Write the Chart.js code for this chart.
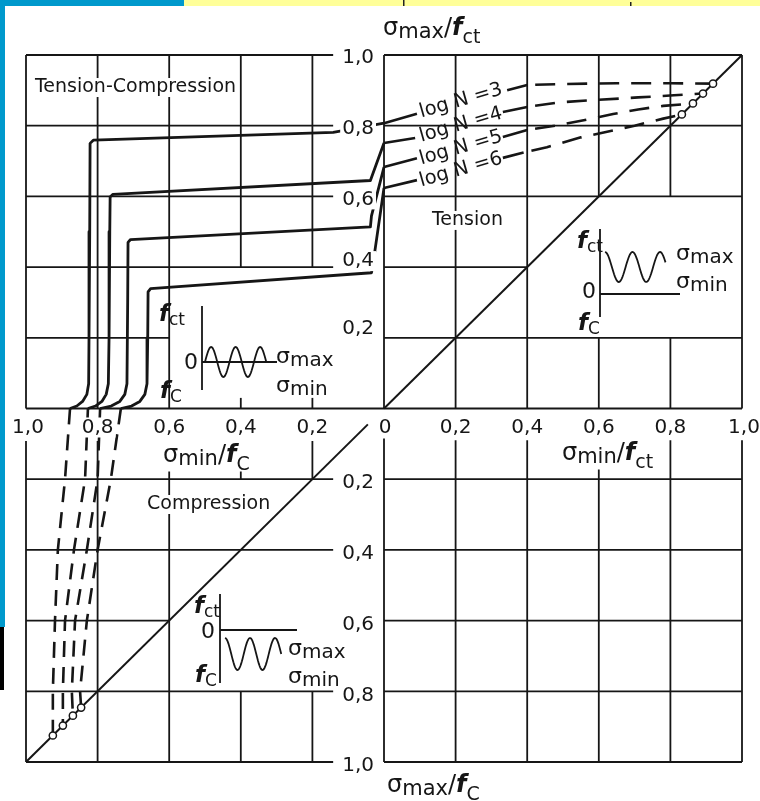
<!DOCTYPE html>
<html>
<head>
<meta charset="utf-8">
<script src="https://cdn.jsdelivr.net/npm/chart.js@4.4.1/dist/chart.umd.min.js"></script>
<style>
html, body { margin: 0; padding: 0; background: #fff; }
#wrap { width: 760px; height: 801px; }
</style>
</head>
<body>
<div id="wrap"><canvas id="chart" width="760" height="801"></canvas></div>
<script>
// ticks (same on all four half-axes)
const tickValues = [0.2, 0.4, 0.6, 0.8, 1.0];
const tickLabels = ['0,2', '0,4', '0,6', '0,8', '1,0'];

const logN = [3, 4, 5, 6];

// Tension: [σmin/fct, σmax/fct], null = break for the label
const tenN3 = [[0, 0.807], [0.092, 0.834], [0.2, null], [0.344, 0.900], [0.40, 0.915]];
const tenN4 = [[0, 0.751], [0.087, 0.765], [0.2, null], [0.332, 0.839], [0.40, 0.853]];
const tenN5 = [[0, 0.683], [0.092, 0.708], [0.2, null], [0.332, 0.768], [0.40, 0.788]];
const tenN6 = [[0, 0.624], [0.092, 0.646], [0.2, null], [0.332, 0.709], [0.39, 0.724]];
const tenN3dash = [[0.40, 0.915], [0.50, 0.918], [0.65, 0.920], [0.80, 0.920], [0.919, 0.919]];
const tenN4dash = [[0.40, 0.853], [0.49, 0.866], [0.58, 0.872], [0.71, 0.880], [0.81, 0.886], [0.891, 0.891]];
const tenN5dash = [[0.40, 0.788], [0.49, 0.802], [0.58, 0.820], [0.64, 0.833], [0.71, 0.846], [0.78, 0.856], [0.863, 0.863]];
const tenN6dash = [[0.39, 0.724], [0.455, 0.739], [0.55, 0.767], [0.70, 0.800], [0.78, 0.820], [0.832, 0.832]];

// Tension-Compression: [σmin/fc, σmax/fct]
const tcN3 = [[0, 0.807], [0.142, 0.781], [0.812, 0.759], [0.821, 0.750], [0.822, 0.50], [0.824, 0.20], [0.825, 0.07], [0.830, 0.04], [0.842, 0.02], [0.858, 0.007], [0.877, 0]];
const tcN4 = [[0, 0.751], [0.038, 0.645], [0.757, 0.606], [0.765, 0.598], [0.766, 0.50], [0.768, 0.20], [0.770, 0.07], [0.776, 0.04], [0.788, 0.02], [0.806, 0.007], [0.827, 0]];
const tcN5 = [[0, 0.683], [0.035, 0.545], [0.038, 0.514], [0.708, 0.478], [0.715, 0.470], [0.716, 0.30], [0.718, 0.07], [0.724, 0.04], [0.738, 0.02], [0.762, 0.007], [0.793, 0]];
const tcN6 = [[0, 0.624], [0.032, 0.400], [0.035, 0.384], [0.652, 0.339], [0.659, 0.330], [0.660, 0.20], [0.662, 0.07], [0.668, 0.04], [0.682, 0.02], [0.705, 0.007], [0.735, 0]];

// Compression: [σmin/fc, σmax/fc]
const compN3 = [[0.877, 0], [0.891, 0.2], [0.911, 0.4], [0.919, 0.6], [0.925, 0.8], [0.925, 0.925]];
const compN4 = [[0.827, 0], [0.835, 0.2], [0.866, 0.4], [0.891, 0.6], [0.897, 0.8], [0.897, 0.897]];
const compN5 = [[0.793, 0], [0.800, 0.2], [0.830, 0.4], [0.863, 0.6], [0.872, 0.8], [0.869, 0.869]];
const compN6 = [[0.735, 0], [0.763, 0.2], [0.800, 0.4], [0.830, 0.6], [0.849, 0.8], [0.846, 0.846]];

// end points on the diagonals
const tenEnds = [[0.919, 0.919], [0.891, 0.891], [0.863, 0.863], [0.832, 0.832]];
const compEnds = [[0.925, 0.925], [0.897, 0.897], [0.869, 0.869], [0.846, 0.846]];

const tenDiag = [[0, 0], [1, 1]];
const compDiag = [[0.045, 0.045], [1, 1]];

const ink = '#161616';
const F = "'DejaVu Sans'";

// x sign, y sign per quadrant
const pts = (arr, sx, sy) => arr.map(([a, b]) => ({ x: a * sx, y: b === null ? null : b * sy }));
function curve(arr, sx, sy, width, dash, offset) {
    return {
        data: pts(arr, sx, sy),
        showLine: true,
        borderColor: ink,
        borderWidth: width,
        borderDash: dash || [],
        borderDashOffset: offset || 0,
        borderJoinStyle: 'round',
        pointRadius: 0,
        spanGaps: false,
        tension: 0
    };
}

const datasets = [
    {
        data: pts(tenEnds, 1, 1).concat(pts(compEnds, -1, -1)),
        showLine: false,
        pointRadius: 3.6,
        pointBackgroundColor: '#fff',
        pointBorderColor: ink,
        pointBorderWidth: 1.5
    },
    curve(tenN3, 1, 1, 2.6), curve(tenN4, 1, 1, 2.6), curve(tenN5, 1, 1, 2.6), curve(tenN6, 1, 1, 2.6),
    curve(tenN3dash, 1, 1, 2.6, [20, 12], 24), curve(tenN4dash, 1, 1, 2.6, [20, 12], 24),
    curve(tenN5dash, 1, 1, 2.6, [20, 12], 24), curve(tenN6dash, 1, 1, 2.6, [20, 12], 24),
    curve(tcN3, -1, 1, 2.8), curve(tcN4, -1, 1, 2.8), curve(tcN5, -1, 1, 2.8), curve(tcN6, -1, 1, 2.8),
    curve(compN3, -1, -1, 2.6, [16, 10]), curve(compN4, -1, -1, 2.6, [16, 10]),
    curve(compN5, -1, -1, 2.6, [16, 10]), curve(compN6, -1, -1, 2.6, [16, 10]),
    curve(tenDiag, 1, 1, 2), curve(compDiag, -1, -1, 2)
];

function seg(ctx, sx, sy, x1, y1, x2, y2) {
    ctx.beginPath();
    ctx.moveTo(sx.getPixelForValue(x1), sy.getPixelForValue(y1));
    ctx.lineTo(sx.getPixelForValue(x2), sy.getPixelForValue(y2));
    ctx.stroke();
}

function boxText(ctx, text, x, y, align) {
    ctx.textAlign = align || 'left';
    ctx.textBaseline = 'middle';
    const w = ctx.measureText(text).width;
    const h = parseFloat(ctx.font.match(/(\d+(\.\d+)?)px/)[1]);
    const left = align === 'right' ? x - w : align === 'center' ? x - w / 2 : x;
    ctx.fillStyle = '#fff';
    ctx.fillRect(left - 2, y - h * 0.5, w + 4, h);
    ctx.fillStyle = ink;
    ctx.fillText(text, x, y);
}

function rich(ctx, x, y, parts, bg) {
    ctx.textBaseline = 'alphabetic';
    ctx.textAlign = 'left';
    let w = 0;
    for (const [t, font] of parts) { ctx.font = font; w += ctx.measureText(t).width; }
    if (bg) { ctx.fillStyle = '#fff'; ctx.fillRect(x - 2, y - 22, w + 4, 32); }
    ctx.fillStyle = ink;
    for (const [t, font, dy] of parts) {
        ctx.font = font;
        ctx.fillText(t, x, y + dy);
        x += ctx.measureText(t).width;
    }
}

function sigmaTitle(ctx, x, y, sub, fsub) {
    rich(ctx, x, y, [
        ['σ', `24px ${F}`, 0], [sub, `21px ${F}`, 3], ['/', `24px ${F}`, 0],
        ['f', `italic bold 24px ${F}`, 0], [fsub, `19px ${F}`, 8]
    ], true);
}

function sigmaPair(ctx, x, y1, y2) {
    rich(ctx, x, y1, [['σ', `22px ${F}`, 0], ['max', `20px ${F}`, 3]]);
    rich(ctx, x, y2, [['σ', `22px ${F}`, 0], ['min', `20px ${F}`, 3]]);
}

function fLabel(ctx, x, y, sub) {
    rich(ctx, x, y, [['f', `italic bold 23px ${F}`, 0], [sub, `17px ${F}`, 4]]);
}

function wave(ctx, x0, yc, amp, period, cycles, useCos) {
    ctx.beginPath();
    for (let i = 0; i <= 80; i++) {
        const t = i / 80 * cycles;
        const a = 2 * Math.PI * t;
        const y = yc - amp * (useCos ? Math.cos(a) : Math.sin(a));
        if (i === 0) ctx.moveTo(x0 + t * period, y); else ctx.lineTo(x0 + t * period, y);
    }
    ctx.stroke();
}

function inset(ctx, ax, top, bottom, zeroY, zeroEnd) {
    ctx.beginPath();
    ctx.moveTo(ax, top); ctx.lineTo(ax, bottom);
    ctx.moveTo(ax, zeroY); ctx.lineTo(zeroEnd, zeroY);
    ctx.stroke();
}

const backdrop = {
    id: 'backdrop',
    beforeDraw(chart) {
        const ctx = chart.ctx;
        ctx.save();
        ctx.fillStyle = '#fff';
        ctx.fillRect(0, 0, chart.width, chart.height);
        ctx.fillStyle = '#0099cc';
        ctx.fillRect(0, 0, 184, 6);
        ctx.fillRect(0, 0, 5, 627);
        ctx.fillStyle = '#ffff99';
        ctx.fillRect(184, 0, 576, 6);
        ctx.fillStyle = '#222';
        ctx.fillRect(403, 0, 1.5, 6);
        ctx.fillRect(630, 2, 1.5, 4);
        ctx.fillStyle = '#000';
        ctx.fillRect(0, 627, 4, 63);
        ctx.restore();
    }
};

const quadGrid = {
    id: 'quadGrid',
    beforeDatasetsDraw(chart) {
        const { ctx, scales: { x: sx, y: sy } } = chart;
        const L = (a, b, c, d) => seg(ctx, sx, sy, a, b, c, d);
        ctx.save();
        ctx.strokeStyle = ink;
        ctx.lineWidth = 1.8;
        // tension
        L(0, 0, 1, 0);
        L(0, 0, 0, 1);
        tickValues.forEach(v => {
            if (v === 0.4) L(0, v, 0.4, v); else L(0, v, 1, v);
            if (v === 0.6 || v === 0.8) { L(v, 0.6, v, 1); L(v, 0, v, 0.2); }
            else L(v, 0, v, 1);
        });
        // tension-compression
        L(-1, 0, 0, 0);
        tickValues.forEach(v => {
            if (v === 0.2) L(-1, v, -0.6, v); else L(-1, v, -0.142, v);
            if (v === 0.2 || v === 0.4) { L(-v, 0.4, -v, 1); L(-v, 0, -v, 0.03); }
            else L(-v, 0, -v, 1);
        });
        // compression
        tickValues.forEach(v => {
            if (v === 0.6) L(-1, -v, -0.6, -v); else L(-1, -v, -0.142, -v);
            if (v === 0.2) { L(-v, -0.092, -v, -0.2); L(-v, -0.8, -v, -1); }
            else if (v === 0.4) { L(-v, -0.145, -v, -0.2); L(-v, -0.8, -v, -1); }
            else L(-v, -0.092, -v, -1);
        });
        // lower right
        L(0, -0.085, 0, -1);
        tickValues.forEach(v => { L(0, -v, 1, -v); L(v, -0.09, v, -1); });
        ctx.restore();
    }
};

const annotations = {
    id: 'annotations',
    afterDatasetsDraw(chart) {
        const { ctx, scales: { x: sx, y: sy } } = chart;
        const X = v => sx.getPixelForValue(v);
        const Y = v => sy.getPixelForValue(v);
        const x0 = X(0), y0 = Y(0);
        ctx.save();

        // tick labels along the middle row and column
        ctx.font = `20px ${F}`;
        boxText(ctx, '0', x0 + 1, y0 + 19, 'center');
        const upDy = [-9, -6, 3, 3, 3];
        tickValues.forEach((v, i) => {
            ctx.font = `20px ${F}`;
            boxText(ctx, tickLabels[i], X(-v) + (v === 1 ? 2 : 0), y0 + 19, 'center');
            boxText(ctx, tickLabels[i], X(v) + (v === 1 ? 2 : 0), y0 + 19, 'center');
            boxText(ctx, tickLabels[i], x0 - 10, Y(v) + upDy[i], 'right');
            boxText(ctx, tickLabels[i], x0 - 10, Y(-v) + 4, 'right');
        });

        // axis titles
        sigmaTitle(ctx, x0 - 1, 35, 'max', 'ct');
        sigmaTitle(ctx, X(-0.617), y0 + 53, 'min', 'C');
        sigmaTitle(ctx, X(0.497), y0 + 51, 'min', 'ct');
        sigmaTitle(ctx, x0 + 3, 792, 'max', 'C');

        // quadrant names
        ctx.font = `19px ${F}`;
        boxText(ctx, 'Tension-Compression', X(-0.975), Y(0.908));
        boxText(ctx, 'Tension', X(0.134), Y(0.532));
        boxText(ctx, 'Compression', X(-0.662), y0 + 96);

        // log N labels along the tension curves
        const ly = [0.870, 0.802, 0.737, 0.675];
        ctx.font = `19.5px ${F}`;
        ctx.fillStyle = ink;
        ctx.textAlign = 'center';
        ctx.textBaseline = 'middle';
        logN.forEach((n, i) => {
            ctx.save();
            ctx.translate(X(0.215), Y(ly[i]));
            ctx.rotate(-16 * Math.PI / 180);
            ctx.fillText('log N =' + n, 0, 0);
            ctx.restore();
        });

        // small load-cycle sketches
        ctx.strokeStyle = ink;
        ctx.lineWidth = 1.8;
        // tension-compression
        inset(ctx, 202, 306, 390, 362, 277);
        wave(ctx, 205, 362, 15, 24.5, 2.5, false);
        fLabel(ctx, 159, 321, 'ct');
        ctx.font = `22px ${F}`; ctx.fillStyle = ink; ctx.textAlign = 'right'; ctx.textBaseline = 'middle';
        ctx.fillText('0', 198, 363);
        fLabel(ctx, 160, 398, 'C');
        sigmaPair(ctx, 276, 363, 392);
        // tension
        inset(ctx, 600, 229, 317, 294, 680);
        wave(ctx, 605, 267, 15, 27.5, 2.2, true);
        fLabel(ctx, 577, 248, 'ct');
        ctx.font = `22px ${F}`; ctx.fillStyle = ink; ctx.textAlign = 'right'; ctx.textBaseline = 'middle';
        ctx.fillText('0', 596, 292);
        fLabel(ctx, 578, 330, 'C');
        sigmaPair(ctx, 676, 260, 288);
        // compression
        inset(ctx, 220, 594, 683, 630, 297);
        wave(ctx, 225, 654, 16, 25, 2.25, true);
        fLabel(ctx, 194, 613, 'ct');
        ctx.font = `22px ${F}`; ctx.fillStyle = ink; ctx.textAlign = 'right'; ctx.textBaseline = 'middle';
        ctx.fillText('0', 215, 632);
        fLabel(ctx, 195, 682, 'C');
        sigmaPair(ctx, 288, 655, 683);

        ctx.restore();
    }
};

new Chart(document.getElementById('chart'), {
    type: 'scatter',
    data: { datasets: datasets },
    options: {
        responsive: false,
        devicePixelRatio: 1,
        animation: false,
        events: [],
        layout: { padding: { left: 26, right: 18, top: 55, bottom: 39 } },
        plugins: { legend: { display: false }, tooltip: { enabled: false } },
        scales: {
            x: { type: 'linear', min: -1, max: 1, display: false },
            y: { type: 'linear', min: -1, max: 1, display: false }
        }
    },
    plugins: [backdrop, quadGrid, annotations]
});
</script>
</body>
</html>
